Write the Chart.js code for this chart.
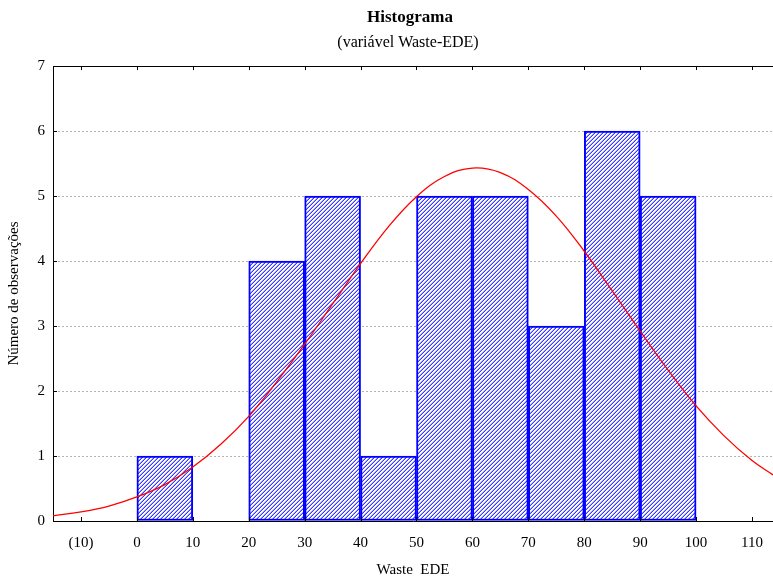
<!DOCTYPE html>
<html>
<head>
<meta charset="utf-8">
<script src="https://cdn.jsdelivr.net/npm/chart.js@4"></script>
<style>
  html, body { margin: 0; padding: 0; background: #fff; }
  #wrap { width: 773px; height: 579px; position: relative; }
</style>
</head>
<body>
<div id="wrap"><canvas id="histChart"></canvas></div>
<script>
// classes do histograma (inicio de cada classe, largura 10)
const binStarts = [0, 10, 20, 30, 40, 50, 60, 70, 80, 90];
const binCounts = [1, 0, 4, 5, 1, 5, 5, 3, 6, 5];

// curva normal esperada
const curveX = [-15, -10, -5, 0, 5, 10, 15, 20, 25, 30, 35, 40, 45, 50, 55, 60, 65, 70, 75, 80, 85, 90, 95, 100, 105, 110, 113.75];
const curveY = [0.08, 0.14, 0.23, 0.37, 0.56, 0.83, 1.18, 1.61, 2.14, 2.72, 3.34, 3.96, 4.53, 4.99, 5.30, 5.43, 5.36, 5.10, 4.69, 4.15, 3.54, 2.92, 2.32, 1.77, 1.31, 0.93, 0.71];

const xTicks = [-10, 0, 10, 20, 30, 40, 50, 60, 70, 80, 90, 100, 110];
const yTicks = [0, 1, 2, 3, 4, 5, 6, 7];

const serif = "'Liberation Serif', 'DejaVu Serif', serif";

document.addEventListener('DOMContentLoaded', function() {
    const canvas = document.getElementById('histChart');
    const ctx = canvas.getContext('2d');

    // hachura diagonal azul
    function makeHatch() {
        const tile = document.createElement('canvas');
        tile.width = 4;
        tile.height = 4;
        const tctx = tile.getContext('2d');
        const img = tctx.createImageData(4, 4);
        for (let y = 0; y < 4; y++) {
            for (let x = 0; x < 4; x++) {
                const k = (x + y) % 4;
                let c = [255, 255, 255];
                if (k === 3) c = [55, 55, 255];
                else if (k === 2) c = [165, 165, 255];
                const i = (y * 4 + x) * 4;
                img.data[i] = c[0];
                img.data[i + 1] = c[1];
                img.data[i + 2] = c[2];
                img.data[i + 3] = 255;
            }
        }
        tctx.putImageData(img, 0, 0);
        return ctx.createPattern(tile, 'repeat');
    }

    const framePlugin = {
        id: 'frame',
        afterDraw(chart) {
            const c = chart.ctx;
            const area = chart.chartArea;
            const xs = chart.scales.x;
            const ys = chart.scales.y;
            c.save();
            c.strokeStyle = '#000';
            c.lineWidth = 1;
            c.beginPath();
            c.moveTo(area.left, area.top + 0.5);
            c.lineTo(area.right, area.top + 0.5);
            xTicks.forEach(v => {
                const px = Math.round(xs.getPixelForValue(v)) + 0.5;
                c.moveTo(px, area.top);
                c.lineTo(px, area.top + 4);
                c.moveTo(px, area.bottom);
                c.lineTo(px, area.bottom - 4);
            });
            yTicks.forEach(v => {
                const py = Math.round(ys.getPixelForValue(v)) + 0.5;
                c.moveTo(area.left, py);
                c.lineTo(area.left + 4, py);
            });
            c.stroke();

            c.fillStyle = '#000';
            c.textAlign = 'center';
            c.textBaseline = 'middle';
            c.font = 'bold 17px ' + serif;
            c.fillText('Histograma', 410, 18);
            c.font = '16px ' + serif;
            c.fillText('(variável Waste-EDE)', 408, 43);
            c.restore();
        }
    };

    new Chart(ctx, {
        type: 'bar',
        data: {
            datasets: [
                {
                    type: 'line',
                    order: 0,
                    data: curveX.map((x, i) => ({ x: x, y: curveY[i] })),
                    borderColor: '#ff0000',
                    borderWidth: 1.3,
                    pointRadius: 0,
                    tension: 0.4,
                    fill: false
                },
                {
                    type: 'bar',
                    order: 1,
                    data: binStarts.map((s, i) => ({ x: s + 5, y: binCounts[i] })),
                    backgroundColor: makeHatch(),
                    borderColor: '#0000ff',
                    borderWidth: 2,
                    borderSkipped: false,
                    barPercentage: 1,
                    categoryPercentage: 1,
                    grouped: false
                }
            ]
        },
        options: {
            responsive: true,
            maintainAspectRatio: false,
            animation: false,
            devicePixelRatio: 1,
            layout: { padding: { top: 66, right: 0, left: 0, bottom: 0 } },
            plugins: {
                legend: { display: false },
                tooltip: { enabled: false }
            },
            scales: {
                x: {
                    type: 'linear',
                    offset: false,
                    min: -15,
                    max: 113.75,
                    afterBuildTicks: s => { s.ticks = xTicks.map(v => ({ value: v })); },
                    afterFit: s => { s.height = 58; s.paddingLeft = 0; s.paddingRight = 0; },
                    grid: { display: false, drawTicks: false },
                    border: { display: true, color: '#000', width: 1 },
                    ticks: {
                        autoSkip: false,
                        maxRotation: 0,
                        padding: 13,
                        color: '#000',
                        font: { family: serif, size: 15 },
                        callback: v => v < 0 ? '(' + (-v) + ')' : String(v)
                    },
                    title: {
                        display: true,
                        text: 'Waste  EDE',
                        color: '#000',
                        font: { family: serif, size: 15 },
                        padding: { top: 0, bottom: 0 }
                    }
                },
                y: {
                    min: 0,
                    max: 7,
                    afterBuildTicks: s => { s.ticks = yTicks.map(v => ({ value: v })); },
                    afterFit: s => { s.width = 53; s.paddingTop = 0; s.paddingBottom = 0; },
                    grid: {
                        drawTicks: false,
                        color: c => (c.tick && (c.tick.value === 0 || c.tick.value === 7)) ? 'rgba(0,0,0,0)' : '#b4b4b4',
                        lineWidth: 1
                    },
                    border: { display: true, color: '#000', width: 1, dash: [2, 2] },
                    ticks: {
                        padding: 8,
                        color: '#000',
                        font: { family: serif, size: 15 }
                    },
                    title: {
                        display: true,
                        text: 'Número de observações',
                        color: '#000',
                        font: { family: serif, size: 15 },
                        padding: { top: 5, bottom: 0 }
                    }
                }
            }
        },
        plugins: [framePlugin]
    });
});
</script>
</body>
</html>
